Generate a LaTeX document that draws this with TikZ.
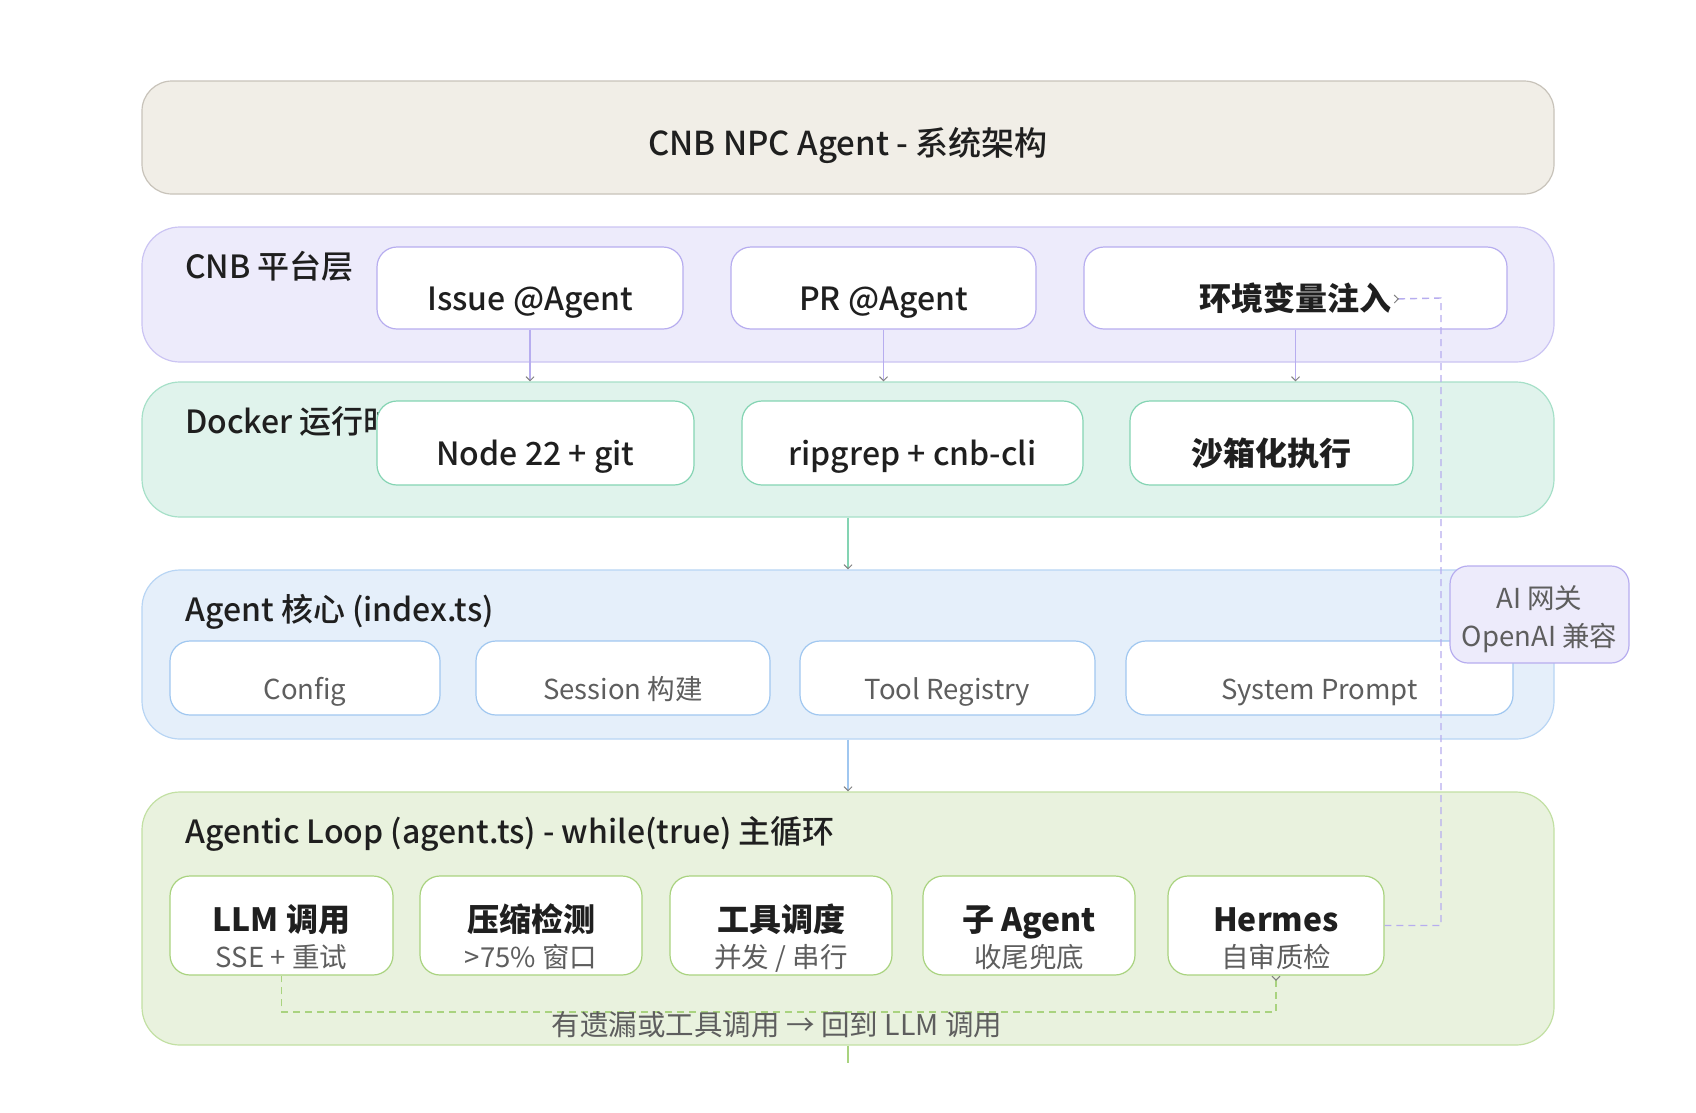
\documentclass[tikz,border=0pt]{standalone}
\usepackage{fontspec}
\setmainfont{Noto Sans CJK SC}
\newfontfamily\medfont{Noto Sans CJK SC Medium}
\usetikzlibrary{arrows.meta}
\definecolor{ink}{HTML}{1F1F1F}
\definecolor{subink}{HTML}{5E5E5E}
\definecolor{titlefill}{HTML}{F1EEE7}
\definecolor{titledraw}{HTML}{C8C3BA}
\definecolor{cnbfill}{HTML}{EDEBFB}
\definecolor{cnbdraw}{HTML}{CBC4F3}
\definecolor{cnbin}{HTML}{B7ADEF}
\definecolor{dkfill}{HTML}{E0F3EC}
\definecolor{dkdraw}{HTML}{A6E0C8}
\definecolor{dkin}{HTML}{84D4B3}
\definecolor{corefill}{HTML}{E5EFFA}
\definecolor{coredraw}{HTML}{B8D5F4}
\definecolor{corein}{HTML}{A0C7F0}
\definecolor{loopfill}{HTML}{E9F2DE}
\definecolor{loopdraw}{HTML}{C2E0A3}
\definecolor{loopin}{HTML}{A9D37F}
\definecolor{tipgray}{HTML}{808080}
\tikzset{
  layer/.style={rounded corners=38pt, line width=1.2pt, inner sep=0pt},
  inbox/.style={rounded corners=20pt, line width=1.2pt, fill=white, inner sep=0pt},
  big/.style={font=\medfont\fontsize{32}{38}\selectfont, text=ink, inner sep=0pt, text height=23pt, text depth=0pt},
  bigb/.style={font=\bfseries\fontsize{32}{38}\selectfont, text=ink, inner sep=0pt, text height=23pt, text depth=0pt},
  small/.style={font=\fontsize{27.5}{33}\selectfont, text=subink, inner sep=0pt, text height=20pt, text depth=0pt},
  flow/.style={line width=1.2pt, -{Straight Barb[length=4pt,width=8pt,color=tipgray,line width=1pt]}},
  dashflow/.style={line width=1.4pt, dash pattern=on 7pt off 5pt},
}
\begin{document}
\begin{tikzpicture}[x=1pt,y=-1pt]
\useasboundingbox[fill=white] (0,0) rectangle (1696,1112);

% title
\node[layer, rounded corners=30pt, fill=titlefill, draw=titledraw, minimum width=1412pt, minimum height=113pt] (title) at (848,137.5) {};
\node[big, font=\medfont\fontsize{33}{38}\selectfont] (titlet) at (848,144) {CNB NPC Agent - 系统架构};

% layers
\node[layer, fill=cnbfill, draw=cnbdraw, minimum width=1412pt, minimum height=135pt] (cnb) at (848,294.5) {};
\node[big, anchor=west] (cnbt) at (185,267) {CNB 平台层};
\node[layer, fill=dkfill, draw=dkdraw, minimum width=1412pt, minimum height=135pt] (dk) at (848,449.5) {};
\node[big, anchor=west] (dkt) at (185,422) {Docker 运行时};
\node[layer, fill=corefill, draw=coredraw, minimum width=1412pt, minimum height=169pt] (core) at (848,654.5) {};
\node[big, anchor=west] (coret) at (185,610) {Agent 核心 (index.ts)};
\node[layer, fill=loopfill, draw=loopdraw, minimum width=1412pt, minimum height=253pt] (loop) at (848,918.5) {};
\node[big, anchor=west] (loopt) at (185,832) {Agentic Loop (agent.ts) - while(true) 主循环};

% CNB boxes
\node[inbox, draw=cnbin, minimum width=306pt, minimum height=82pt] (issue) at (530,288) {};
\node[big] (issuet) at (530,299) {Issue @Agent};
\node[inbox, draw=cnbin, minimum width=305pt, minimum height=82pt] (pr) at (883.5,288) {};
\node[big] (prt) at (883.5,299) {PR @Agent};
\node[inbox, draw=cnbin, minimum width=423pt, minimum height=82pt] (env) at (1295.5,288) {};
\node[bigb] (envt) at (1295.5,299) {环境变量注入};

% Docker boxes
\node[inbox, draw=dkin, minimum width=317pt, minimum height=84pt] (node) at (535.5,443) {};
\node[big] (nodet) at (535.5,454) {Node 22 + git};
\node[inbox, draw=dkin, minimum width=341pt, minimum height=84pt] (rg) at (912.5,443) {};
\node[big] (rgt) at (912.5,454) {ripgrep + cnb-cli};
\node[inbox, draw=dkin, minimum width=283pt, minimum height=84pt] (sb) at (1271.5,443) {};
\node[bigb] (sbt) at (1271.5,454) {沙箱化执行};

% core boxes
\node[inbox, draw=corein, minimum width=270pt, minimum height=74pt] (cfg) at (305,678) {};
\node[small] (cfgt) at (305,689) {Config};
\node[inbox, draw=corein, minimum width=294pt, minimum height=74pt] (ses) at (623,678) {};
\node[small] (sest) at (623,689) {Session 构建};
\node[inbox, draw=corein, minimum width=295pt, minimum height=74pt] (tool) at (947.5,678) {};
\node[small] (toolt) at (947.5,689) {Tool Registry};
\node[inbox, draw=corein, minimum width=387pt, minimum height=74pt] (sys) at (1319.5,678) {};
\node[small] (syst) at (1319.5,689) {System Prompt};

% loop boxes
\node[inbox, draw=loopin, minimum width=223pt, minimum height=99pt] (llm) at (281.5,925.5) {};
\node[bigb] (llmt) at (281.5,920) {LLM 调用};
\node[small] (llms) at (281.5,957) {SSE + 重试};
\node[inbox, draw=loopin, minimum width=222pt, minimum height=99pt] (cmp) at (531,925.5) {};
\node[bigb] (cmpt) at (531,920) {压缩检测};
\node[small] (cmps) at (531,957) {>75\% 窗口};
\node[inbox, draw=loopin, minimum width=222pt, minimum height=99pt] (sch) at (781,925.5) {};
\node[bigb] (scht) at (781,920) {工具调度};
\node[small] (schs) at (781,957) {并发 / 串行};
\node[inbox, draw=loopin, minimum width=212pt, minimum height=99pt] (sub) at (1029,925.5) {};
\node[bigb] (subt) at (1029,920) {子 Agent};
\node[small] (subs) at (1029,957) {收尾兜底};
\node[inbox, draw=loopin, minimum width=216pt, minimum height=99pt] (her) at (1276,925.5) {};
\node[bigb] (hert) at (1276,920) {Hermes};
\node[small] (hers) at (1276,957) {自审质检};

% AI gateway
\node[inbox, rounded corners=18pt, fill=cnbfill, draw=cnbin, minimum width=179pt, minimum height=97pt] (gw) at (1539.5,614.5) {};
\node[small] (gwt1) at (1539.5,598) {AI 网关};
\node[small] (gwt2) at (1539.5,636) {OpenAI 兼容};

% flows between layers
\draw[flow, draw=cnbin] (issue.south) -- (issue.south |- dk.north);
\draw[flow, draw=cnbin] (pr.south) -- (pr.south |- dk.north);
\draw[flow, draw=cnbin] (env.south) -- (env.south |- dk.north);
\draw[flow, draw=dkin, line width=2pt] (dk.south) -- (core.north);
\draw[flow, draw=corein] (core.south) -- (loop.north);
\coordinate (tail) at (848,1063);
\draw[line width=1.2pt, draw=loopin] (loop.south) -- (tail);

% loop back
\coordinate (lb1) at (1276,1012);
\coordinate (lb2) at (281.5,1012);
\draw[dashflow, draw=loopin, {Straight Barb[reversed,length=4pt,width=8pt,color=tipgray,line width=1pt]}-] (her.south) -- (lb1) -- (lb2) -- (llm.south);
\node[small, font=\fontsize{28.5}{33}\selectfont] (loopl) at (777,1025) {有遗漏或工具调用 → 回到 LLM 调用};

% hermes to env
\coordinate (dv1) at (1441,925.5);
\coordinate (dv2) at (1441,298);
\draw[dashflow, draw=cnbin, {Straight Barb[reversed,length=4pt,width=8pt,color=tipgray,line width=1pt]}-] ([xshift=2pt]envt.east) -- (dv2) -- (dv1) -- (her.east);
\end{tikzpicture}
\end{document}
